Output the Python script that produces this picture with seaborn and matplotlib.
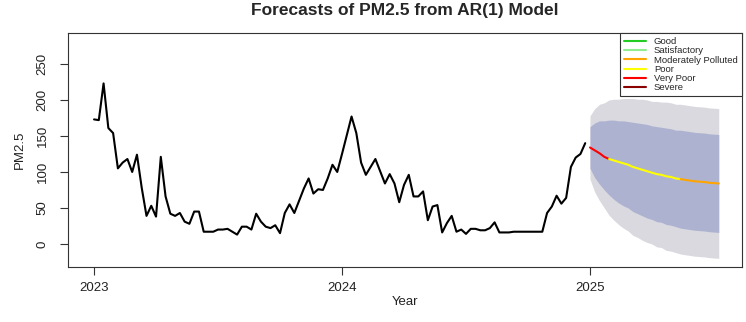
import numpy as np
import pandas as pd
import seaborn as sns
import matplotlib.pyplot as plt
from matplotlib.lines import Line2D

# weekly PM2.5
pm25_2023 = [173, 172, 223, 161, 154, 105, 113, 118, 100, 124, 78, 39, 53, 38, 121, 66,
             42, 39, 43, 31, 28, 45, 45, 17, 17, 17, 20, 20, 21, 17, 13, 24, 24, 20, 42, 31,
             24, 22, 26, 15, 43, 55, 43, 60, 77, 91, 70, 76, 75, 91, 110, 100]
pm25_2024 = [125, 151, 177, 154, 113, 96, 107, 118, 101, 84, 97, 84, 58, 82, 96, 66,
             66, 73, 33, 52, 54, 16, 29, 39, 17, 20, 14, 21, 21, 19, 19, 22, 30, 16, 16, 16,
             17, 17, 17, 17, 17, 17, 17, 43, 52, 67, 56, 64, 107, 120, 125, 140]

# AR(1) forecast and intervals
fc_mean = [134, 130, 126, 121, 118, 116, 114, 112, 110, 107, 105, 103, 101, 99, 97, 96,
           94, 93, 91, 90, 89, 88, 87, 86.5, 86, 85, 84.5, 84]
fc_hi80 = [163, 168, 171, 171, 172, 172, 171, 171, 170, 169, 168, 167, 166, 164, 163, 162,
           161, 160, 158, 158, 157, 156, 155, 154.5, 154, 153, 152.5, 152]
fc_lo80 = [105, 92, 83, 75, 68, 62, 57, 53, 50, 45, 42, 39, 36, 34, 31, 30,
           27, 26, 24, 22, 21, 20, 19, 18.5, 18, 17, 16.5, 16]
fc_hi95 = [178, 188, 194, 196, 200, 201, 201, 202, 202, 202, 201, 201, 200, 198, 198, 197,
           197, 196, 194, 194, 193, 192, 191, 190.5, 190, 189, 188.5, 188]
fc_lo95 = [90, 72, 60, 50, 40, 33, 27, 22, 18, 12, 9, 5, 2, 0, -4, -5,
           -9, -10, -12, -14, -15, -16, -17, -17.5, -18, -19, -19.5, -20]

categories = ["Good", "Satisfactory", "Moderately Polluted", "Poor", "Very Poor", "Severe"]
cat_colors = ["#22CC22", "#90EE90", "orange", "yellow", "red", "darkred"]
cat_bins = [-np.inf, 30, 60, 90, 120, 250, np.inf]

obs = pm25_2023 + pm25_2024
hist = pd.DataFrame({"time": 2023 + np.arange(len(obs)) / 52, "pm": obs})
fc = pd.DataFrame({"time": 2025 + np.arange(len(fc_mean)) / 52, "pm": fc_mean,
                   "lo80": fc_lo80, "hi80": fc_hi80, "lo95": fc_lo95, "hi95": fc_hi95})
fc["cat"] = pd.cut(fc["pm"], bins=cat_bins, labels=categories).astype(str)

# runs of one category, each taking the next point too so the pieces join
rows = []
for i in range(len(fc)):
    rows.append((fc.time[i], fc.pm[i], fc.cat[i]))
    if i + 1 < len(fc) and fc.cat[i + 1] != fc.cat[i]:
        rows.append((fc.time[i + 1], fc.pm[i + 1], fc.cat[i]))
fc_line = pd.DataFrame(rows, columns=["time", "pm", "cat"])

sns.set_style("white")
plt.rcParams["font.family"] = ["Liberation Sans", "DejaVu Sans"]

fig = plt.figure(figsize=(7.46, 3.22), dpi=100)
ax = fig.add_axes([68 / 746, 1 - 267 / 322, 674 / 746, 234 / 322])

ax.fill_between(fc.time, fc.lo95, fc.hi95, color="#D9D9DF", lw=0)
ax.fill_between(fc.time, fc.lo80, fc.hi80, color="#AEB2D1", lw=0)

sns.lineplot(data=hist, x="time", y="pm", color="black", lw=1.5, ax=ax)
sns.lineplot(data=fc_line, x="time", y="pm", hue="cat", palette=dict(zip(categories, cat_colors)),
             estimator=None, sort=False, lw=1.5, legend=False, ax=ax)

ax.set_xlim(2022.895, 2025.613)
ax.set_ylim(-32, 293)
ax.set_xticks([2023, 2024, 2025])
ax.set_yticks([0, 50, 100, 150, 200, 250])
ax.tick_params(direction="out", length=6, width=0.8, color="#333333", labelsize=9.5,
               labelcolor="#222222", bottom=True, left=True)
ax.tick_params(axis="x", pad=5)
ax.tick_params(axis="y", pad=8)
plt.setp(ax.get_yticklabels(), rotation=90, va="center")
for s in ax.spines.values():
    s.set_visible(True)
    s.set_color("#333333")
    s.set_linewidth(0.8)

ax.set_xlabel("Year", fontsize=9.5, color="#222222")
ax.set_ylabel("PM2.5", fontsize=9.5, color="#222222")
ax.xaxis.set_label_coords(0.5, -(296 - 267) / 234)
ax.yaxis.set_label_coords(-(68 - 26) / 674, 0.5)

fig.text(405 / 746, 1 - 10 / 322, "Forecasts of PM2.5 from AR(1) Model",
         ha="center", va="center", fontsize=12.5, fontweight="bold")

handles = [Line2D([], [], color=c, lw=1.5) for c in cat_colors]
leg = ax.legend(handles, categories, loc="upper right", bbox_to_anchor=(1, 1),
                borderaxespad=0, fontsize=6.8, frameon=True, fancybox=False,
                handlelength=2.3, handletextpad=0.9, labelspacing=0.02,
                borderpad=0.45, framealpha=1)
leg.get_frame().set_edgecolor("#333333")
leg.get_frame().set_linewidth(0.8)

fig.savefig("out.png", dpi=100)
